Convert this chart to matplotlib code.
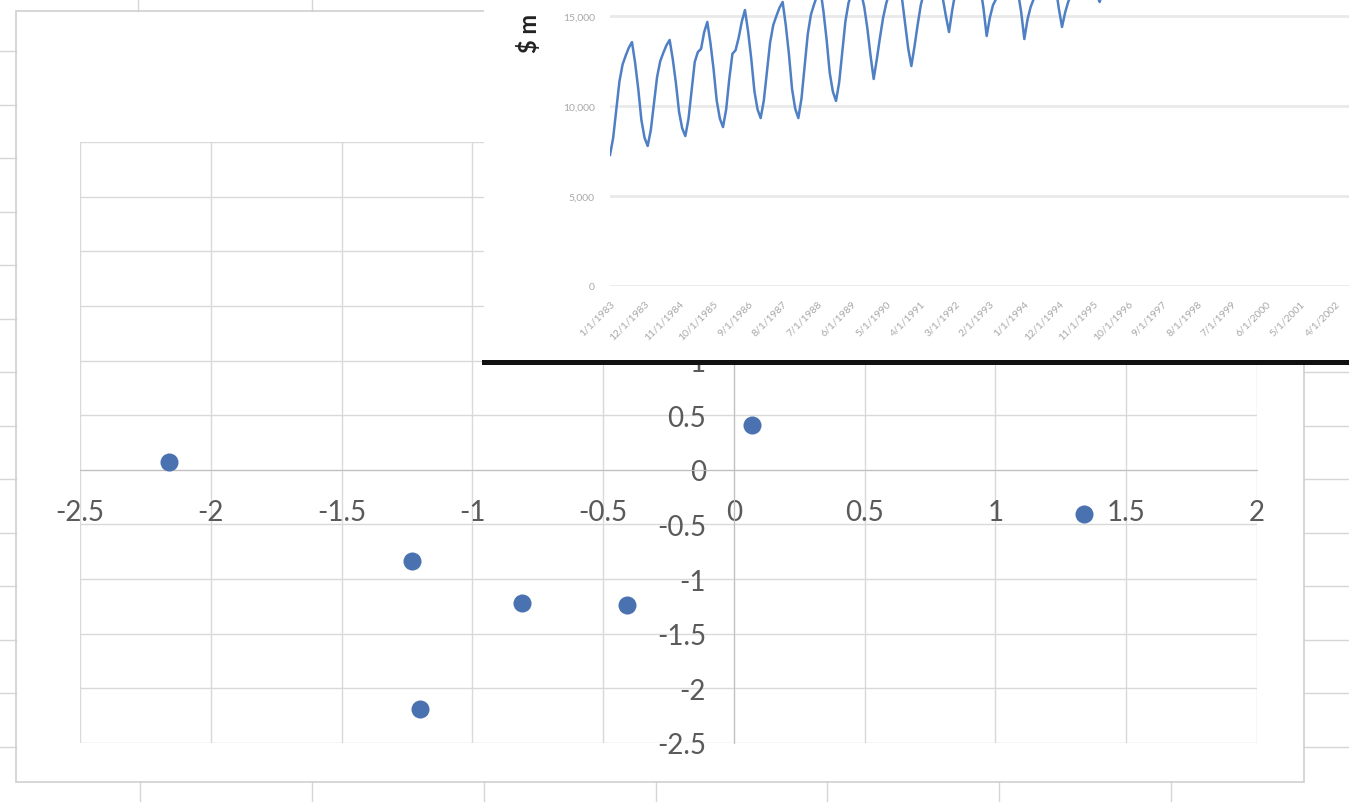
import numpy as np
import pandas as pd
import matplotlib
matplotlib.use("Agg")
import matplotlib.pyplot as plt
from matplotlib.lines import Line2D
from matplotlib.patches import Rectangle

W, H = 1349, 803

# scatter points (main excel chart)
pts_x = [-2.16, -1.23, -0.81, -0.41, -1.20, 0.07, 1.34]
pts_y = [0.07, -0.83, -1.22, -1.24, -2.19, 0.41, -0.40]

x_ticks = [-2.5, -2, -1.5, -1, -0.5, 0, 0.5, 1, 1.5, 2]
x_labels = ["-2.5", "-2", "-1.5", "-1", "-0.5", "0", "0.5", "1", "1.5", "2"]
y_ticks = [-2.5, -2, -1.5, -1, -0.5, 0, 0.5, 1, 1.5, 2, 2.5, 3]
y_labels = ["-2.5", "-2", "-1.5", "-1", "-0.5", "0", "0.5", "1", "1.5", "2", "2.5", "3"]

# pasted line chart (monthly, $ m)
sales = [7280, 8220, 9790, 11360, 12300, 12800, 13240, 13550, 12400, 10950, 9220, 8240,
         7780, 8660, 10140, 11610, 12490, 12960, 13380, 13670, 12600, 11270, 9670, 8760,
         8330, 9280, 10870, 12450, 13000, 13170, 14100, 14670, 13500, 12040, 10290, 9300,
         8830, 9800, 11500, 12900, 13100, 13800, 14700, 15330, 14130, 12630, 10830, 9810,
         9330, 10300, 11910, 13520, 14490, 15000, 15460, 15780, 14490, 12880, 10940, 9850,
         9330, 10410, 12200, 13990, 15070, 15640, 16140, 16500, 15260, 13700, 11840, 10800,
         10280, 11300, 13010, 14710, 15740, 16280, 16760, 17100, 16300, 15500, 14300, 12800,
         11500, 12600, 13800, 14900, 15700, 16300, 17000, 17800, 17200, 16000, 14600, 13200,
         12220, 13300, 14500, 15600, 16300, 17200, 18000, 18500, 17900, 17000, 16000, 15000,
         14110, 15300, 16300, 17300, 18200, 18800, 19300, 19600, 19000, 18000, 16600, 15400,
         13890, 14900, 15600, 15950, 16600, 17500, 18500, 19400, 19000, 17800, 16300, 15200,
         13720, 14800, 15500, 15950, 16600, 17600, 18600, 19700, 19300, 18000, 16600, 15400,
         14390, 15200, 15800, 16200, 17000, 18000, 19000, 20000, 19500, 18200, 16900, 16200,
         15780, 16400, 17200, 18200, 19200, 20000, 20600, 21000, 20400, 19200, 17800, 17000]
months = pd.date_range("1983-01-01", periods=240, freq="MS")
date_ticks = list(range(0, 240, 11))
date_labels = [f"{d.month}/{d.day}/{d.year}" for d in months[::11]]
inset_yticks = [0, 5000, 10000, 15000]
inset_ylabels = ["0", "5,000", "10,000", "15,000"]

plt.rcParams['font.family'] = ['Lato', 'DejaVu Sans']
plt.rcParams['axes.unicode_minus'] = False


def fx(x):
    return x / W


def fy(y):
    return 1 - y / H


fig = plt.figure(figsize=(W / 100, H / 100), dpi=100)

# spreadsheet cells around the chart
cell = '#d6d6d6'
for y in [52, 106, 159, 213, 266, 320, 373, 427, 480, 534, 587, 641, 694, 748]:
    fig.add_artist(Line2D([0, fx(16)], [fy(y), fy(y)], color=cell, lw=1, zorder=1))
    fig.add_artist(Line2D([fx(1304), 1], [fy(y), fy(y)], color=cell, lw=1, zorder=1))
for x in [138, 312]:
    fig.add_artist(Line2D([fx(x), fx(x)], [1, fy(12)], color=cell, lw=1, zorder=1))
for x in [140, 312, 484, 656, 827, 999, 1171]:
    fig.add_artist(Line2D([fx(x), fx(x)], [fy(783), 0], color=cell, lw=1, zorder=1))
fig.add_artist(Rectangle((fx(16), fy(783)), fx(1304) - fx(16), fy(12) - fy(783),
                         fill=False, ec='#cfcfcf', lw=1.2, transform=fig.transFigure, zorder=1))

# main scatter
ax = fig.add_axes([fx(80), fy(744), fx(1257) - fx(80), fy(143) - fy(744)])
ax.scatter(pts_x, pts_y, s=13 ** 2, color='#4a72b0', linewidths=0, zorder=3)
ax.set_xlim(-2.5, 2)
ax.set_ylim(-2.5, 3)
ax.set_xticks(x_ticks, x_labels)
ax.set_yticks(y_ticks, y_labels)
ax.grid(True, color='#d9d9d9', lw=1)
ax.set_axisbelow(True)
ax.spines['bottom'].set_position('zero')
ax.spines['left'].set_position('zero')
for s in ['bottom', 'left']:
    ax.spines[s].set_color('#bfbfbf')
for s in ['top', 'right']:
    ax.spines[s].set_visible(False)
ax.tick_params(length=0, labelsize=20, labelcolor='#5a5a5a')
ax.tick_params(axis='x', pad=21)
ax.tick_params(axis='y', pad=20)

# pasted screenshot of a line chart, top right
cov = fig.add_axes([fx(484), fy(362.5), fx(1349) - fx(484), fy(0) - fy(362.5)], zorder=5)
cov.set_facecolor('white')
cov.set_xticks([])
cov.set_yticks([])
for s in ['top', 'left', 'right']:
    cov.spines[s].set_visible(False)
cov.spines['bottom'].set_color('#111111')
cov.spines['bottom'].set_linewidth(3.6)

lax = fig.add_axes([fx(610), fy(287), 240 * 3.139 / W, 450 / H], zorder=6)
lax.patch.set_alpha(0)
lax.plot(range(len(sales)), sales, color='#4f7fc4', lw=1.8)
lax.set_xlim(0, 240)
lax.set_ylim(0, 25000)
lax.set_yticks(inset_yticks, inset_ylabels)
lax.set_xticks(date_ticks)
lax.set_xticklabels(date_labels, rotation=45, ha='right', rotation_mode='anchor')
lax.grid(True, axis='y', color='#e9e9e9', lw=2)
lax.set_axisbelow(True)
for s in lax.spines.values():
    s.set_visible(False)
lax.tick_params(length=0, labelsize=7.5, labelcolor='#a8a8a8')
lax.tick_params(axis='y', pad=11)
lax.tick_params(axis='x', pad=9)
lax.set_ylabel('$ m', fontsize=17, fontweight='bold', color='#222222')
lax.yaxis.set_label_coords(fx(541), fy(33), transform=fig.transFigure)

fig.savefig('out.png', dpi=100)
